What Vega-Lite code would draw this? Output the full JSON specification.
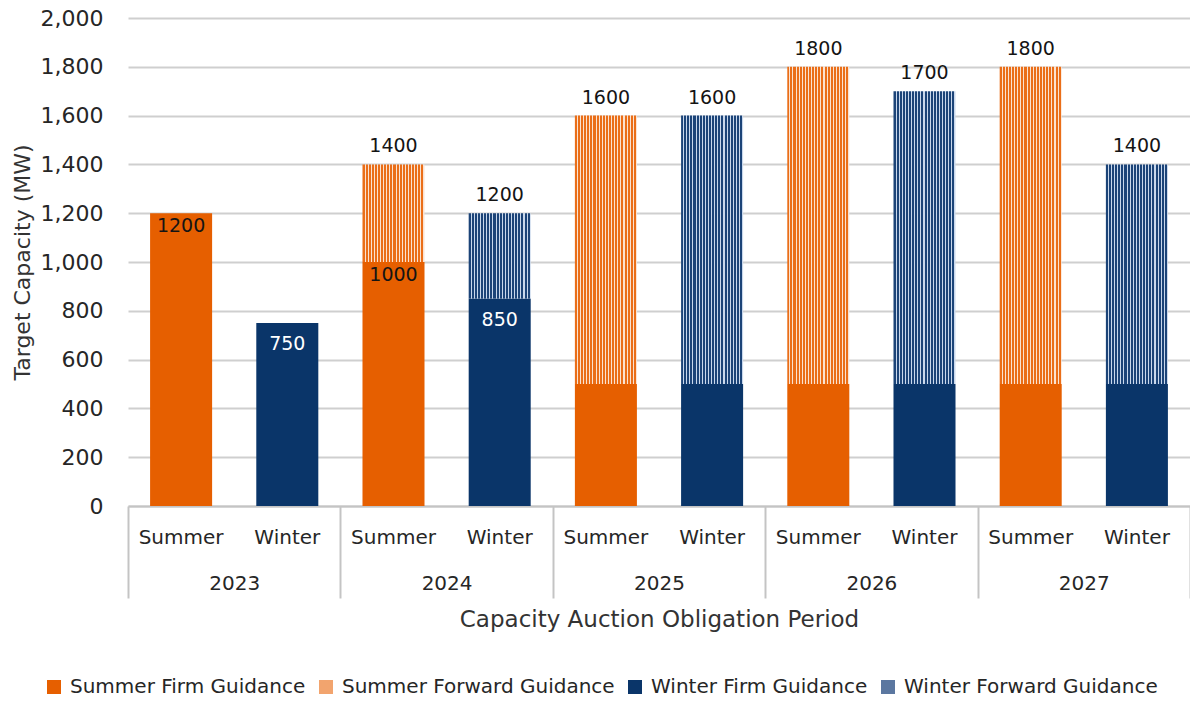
{
  "$schema": "https://vega.github.io/schema/vega-lite/v6.json",
  "autosize": {"type": "none"},
  "padding": {"left": 128, "top": 18, "right": 0, "bottom": 195},
  "width": 1062,
  "height": 488,
  "background": "white",
  "config": {
    "font": "DejaVu Sans",
    "view": {"stroke": null},
    "axis": {"labelFont": "DejaVu Sans", "titleFont": "DejaVu Sans", "titleFontWeight": "normal", "labelColor": "#262626", "titleColor": "#333333"},
    "legend": {"labelFont": "DejaVu Sans"}
  },
  "datasets": {
    "bars": [
      {"key": "2023|Summer", "series": "Summer Firm Guidance", "value": 1200, "ord": 1},
      {"key": "2023|Winter", "series": "Winter Firm Guidance", "value": 750, "ord": 1},
      {"key": "2024|Summer", "series": "Summer Firm Guidance", "value": 1000, "ord": 1},
      {"key": "2024|Summer", "series": "Summer Forward Guidance", "value": 400, "ord": 2},
      {"key": "2024|Winter", "series": "Winter Firm Guidance", "value": 850, "ord": 1},
      {"key": "2024|Winter", "series": "Winter Forward Guidance", "value": 350, "ord": 2},
      {"key": "2025|Summer", "series": "Summer Firm Guidance", "value": 500, "ord": 1},
      {"key": "2025|Summer", "series": "Summer Forward Guidance", "value": 1100, "ord": 2},
      {"key": "2025|Winter", "series": "Winter Firm Guidance", "value": 500, "ord": 1},
      {"key": "2025|Winter", "series": "Winter Forward Guidance", "value": 1100, "ord": 2},
      {"key": "2026|Summer", "series": "Summer Firm Guidance", "value": 500, "ord": 1},
      {"key": "2026|Summer", "series": "Summer Forward Guidance", "value": 1300, "ord": 2},
      {"key": "2026|Winter", "series": "Winter Firm Guidance", "value": 500, "ord": 1},
      {"key": "2026|Winter", "series": "Winter Forward Guidance", "value": 1200, "ord": 2},
      {"key": "2027|Summer", "series": "Summer Firm Guidance", "value": 500, "ord": 1},
      {"key": "2027|Summer", "series": "Summer Forward Guidance", "value": 1300, "ord": 2},
      {"key": "2027|Winter", "series": "Winter Firm Guidance", "value": 500, "ord": 1},
      {"key": "2027|Winter", "series": "Winter Forward Guidance", "value": 900, "ord": 2}
    ],
    "labels": [
      {"key": "2023|Summer", "value": 1200, "text": "1200", "kind": "inDark"},
      {"key": "2024|Summer", "value": 1000, "text": "1000", "kind": "inDark"},
      {"key": "2023|Winter", "value": 750, "text": "750", "kind": "inLight"},
      {"key": "2024|Winter", "value": 850, "text": "850", "kind": "inLight"},
      {"key": "2024|Summer", "value": 1400, "text": "1400", "kind": "above"},
      {"key": "2024|Winter", "value": 1200, "text": "1200", "kind": "above"},
      {"key": "2025|Summer", "value": 1600, "text": "1600", "kind": "above"},
      {"key": "2025|Winter", "value": 1600, "text": "1600", "kind": "above"},
      {"key": "2026|Summer", "value": 1800, "text": "1800", "kind": "above"},
      {"key": "2026|Winter", "value": 1700, "text": "1700", "kind": "above"},
      {"key": "2027|Summer", "value": 1800, "text": "1800", "kind": "above"},
      {"key": "2027|Winter", "value": 1400, "text": "1400", "kind": "above"}
    ],
    "years": [
      {"year": "2023"}, {"year": "2024"}, {"year": "2025"}, {"year": "2026"}, {"year": "2027"}
    ]
  },
  "layer": [
    {
      "layer": [
        {
          "data": {"name": "bars"},
          "mark": {"type": "bar"},
          "encoding": {
            "x": {
              "field": "key", "type": "nominal",
              "scale": {"domain": ["2023|Summer", "2023|Winter", "2024|Summer", "2024|Winter", "2025|Summer", "2025|Winter", "2026|Summer", "2026|Winter", "2027|Summer", "2027|Winter"], "paddingInner": 0.416, "paddingOuter": 0.208},
              "axis": {"orient": "bottom", "title": null, "labelExpr": "split(datum.value, '|')[1]", "labelAngle": 0, "labelFontSize": 20, "labelPadding": 21, "ticks": false, "tickSize": 0, "domain": true, "domainColor": "#c4c4c4", "domainWidth": 2, "grid": false}
            },
            "y": {
              "field": "value", "type": "quantitative", "stack": "zero",
              "scale": {"domain": [0, 2000], "nice": false},
              "axis": {"title": "Target Capacity (MW)", "titleFontSize": 22, "titlePadding": 6, "values": [0, 200, 400, 600, 800, 1000, 1200, 1400, 1600, 1800, 2000], "format": ",.0f", "labelFontSize": 22, "labelPadding": 25, "ticks": false, "tickSize": 0, "domain": false, "grid": true, "gridColor": "#cfcfcf", "gridWidth": 2}
            },
            "order": {"field": "ord", "type": "quantitative"},
            "color": {
              "field": "series", "type": "nominal",
              "scale": {"domain": ["Summer Firm Guidance", "Summer Forward Guidance", "Winter Firm Guidance", "Winter Forward Guidance"], "range": ["#E65F00", "#F2A46E", "#0A3569", "#5B77A0"]},
              "legend": {"title": null, "orient": "none", "legendX": -84, "legendY": 659, "direction": "horizontal", "symbolType": "square", "symbolSize": 196, "symbolStrokeWidth": 0, "labelFontSize": 20, "labelColor": "#262626", "labelOffset": 6, "columnPadding": 10, "labelLimit": 400},
              "condition": [
                {"test": "datum.series === 'Summer Forward Guidance'", "value": {"gradient": "linear", "x1": 0, "y1": 0, "x2": 1, "y2": 0, "stops": [
                  {"offset": 0, "color": "#EA6E18"}, {"offset": 0.0325, "color": "#EA6E18"}, {"offset": 0.0325, "color": "#FBE2D0"}, {"offset": 0.05, "color": "#FBE2D0"},
                  {"offset": 0.05, "color": "#EA6E18"}, {"offset": 0.0825, "color": "#EA6E18"}, {"offset": 0.0825, "color": "#FBE2D0"}, {"offset": 0.1, "color": "#FBE2D0"},
                  {"offset": 0.1, "color": "#EA6E18"}, {"offset": 0.1325, "color": "#EA6E18"}, {"offset": 0.1325, "color": "#FBE2D0"}, {"offset": 0.15, "color": "#FBE2D0"},
                  {"offset": 0.15, "color": "#EA6E18"}, {"offset": 0.1825, "color": "#EA6E18"}, {"offset": 0.1825, "color": "#FBE2D0"}, {"offset": 0.2, "color": "#FBE2D0"},
                  {"offset": 0.2, "color": "#EA6E18"}, {"offset": 0.2325, "color": "#EA6E18"}, {"offset": 0.2325, "color": "#FBE2D0"}, {"offset": 0.25, "color": "#FBE2D0"},
                  {"offset": 0.25, "color": "#EA6E18"}, {"offset": 0.2825, "color": "#EA6E18"}, {"offset": 0.2825, "color": "#FBE2D0"}, {"offset": 0.3, "color": "#FBE2D0"},
                  {"offset": 0.3, "color": "#EA6E18"}, {"offset": 0.3325, "color": "#EA6E18"}, {"offset": 0.3325, "color": "#FBE2D0"}, {"offset": 0.35, "color": "#FBE2D0"},
                  {"offset": 0.35, "color": "#EA6E18"}, {"offset": 0.3825, "color": "#EA6E18"}, {"offset": 0.3825, "color": "#FBE2D0"}, {"offset": 0.4, "color": "#FBE2D0"},
                  {"offset": 0.4, "color": "#EA6E18"}, {"offset": 0.4325, "color": "#EA6E18"}, {"offset": 0.4325, "color": "#FBE2D0"}, {"offset": 0.45, "color": "#FBE2D0"},
                  {"offset": 0.45, "color": "#EA6E18"}, {"offset": 0.4825, "color": "#EA6E18"}, {"offset": 0.4825, "color": "#FBE2D0"}, {"offset": 0.5, "color": "#FBE2D0"},
                  {"offset": 0.5, "color": "#EA6E18"}, {"offset": 0.5325, "color": "#EA6E18"}, {"offset": 0.5325, "color": "#FBE2D0"}, {"offset": 0.55, "color": "#FBE2D0"},
                  {"offset": 0.55, "color": "#EA6E18"}, {"offset": 0.5825, "color": "#EA6E18"}, {"offset": 0.5825, "color": "#FBE2D0"}, {"offset": 0.6, "color": "#FBE2D0"},
                  {"offset": 0.6, "color": "#EA6E18"}, {"offset": 0.6325, "color": "#EA6E18"}, {"offset": 0.6325, "color": "#FBE2D0"}, {"offset": 0.65, "color": "#FBE2D0"},
                  {"offset": 0.65, "color": "#EA6E18"}, {"offset": 0.6825, "color": "#EA6E18"}, {"offset": 0.6825, "color": "#FBE2D0"}, {"offset": 0.7, "color": "#FBE2D0"},
                  {"offset": 0.7, "color": "#EA6E18"}, {"offset": 0.7325, "color": "#EA6E18"}, {"offset": 0.7325, "color": "#FBE2D0"}, {"offset": 0.75, "color": "#FBE2D0"},
                  {"offset": 0.75, "color": "#EA6E18"}, {"offset": 0.7825, "color": "#EA6E18"}, {"offset": 0.7825, "color": "#FBE2D0"}, {"offset": 0.8, "color": "#FBE2D0"},
                  {"offset": 0.8, "color": "#EA6E18"}, {"offset": 0.8325, "color": "#EA6E18"}, {"offset": 0.8325, "color": "#FBE2D0"}, {"offset": 0.85, "color": "#FBE2D0"},
                  {"offset": 0.85, "color": "#EA6E18"}, {"offset": 0.8825, "color": "#EA6E18"}, {"offset": 0.8825, "color": "#FBE2D0"}, {"offset": 0.9, "color": "#FBE2D0"},
                  {"offset": 0.9, "color": "#EA6E18"}, {"offset": 0.9325, "color": "#EA6E18"}, {"offset": 0.9325, "color": "#FBE2D0"}, {"offset": 0.95, "color": "#FBE2D0"},
                  {"offset": 0.95, "color": "#EA6E18"}, {"offset": 0.9825, "color": "#EA6E18"}, {"offset": 0.9825, "color": "#FBE2D0"}, {"offset": 1, "color": "#FBE2D0"}
                ]}},
                {"test": "datum.series === 'Winter Forward Guidance'", "value": {"gradient": "linear", "x1": 0, "y1": 0, "x2": 1, "y2": 0, "stops": [
                  {"offset": 0, "color": "#1C4478"}, {"offset": 0.0325, "color": "#1C4478"}, {"offset": 0.0325, "color": "#C9D8EC"}, {"offset": 0.05, "color": "#C9D8EC"},
                  {"offset": 0.05, "color": "#1C4478"}, {"offset": 0.0825, "color": "#1C4478"}, {"offset": 0.0825, "color": "#C9D8EC"}, {"offset": 0.1, "color": "#C9D8EC"},
                  {"offset": 0.1, "color": "#1C4478"}, {"offset": 0.1325, "color": "#1C4478"}, {"offset": 0.1325, "color": "#C9D8EC"}, {"offset": 0.15, "color": "#C9D8EC"},
                  {"offset": 0.15, "color": "#1C4478"}, {"offset": 0.1825, "color": "#1C4478"}, {"offset": 0.1825, "color": "#C9D8EC"}, {"offset": 0.2, "color": "#C9D8EC"},
                  {"offset": 0.2, "color": "#1C4478"}, {"offset": 0.2325, "color": "#1C4478"}, {"offset": 0.2325, "color": "#C9D8EC"}, {"offset": 0.25, "color": "#C9D8EC"},
                  {"offset": 0.25, "color": "#1C4478"}, {"offset": 0.2825, "color": "#1C4478"}, {"offset": 0.2825, "color": "#C9D8EC"}, {"offset": 0.3, "color": "#C9D8EC"},
                  {"offset": 0.3, "color": "#1C4478"}, {"offset": 0.3325, "color": "#1C4478"}, {"offset": 0.3325, "color": "#C9D8EC"}, {"offset": 0.35, "color": "#C9D8EC"},
                  {"offset": 0.35, "color": "#1C4478"}, {"offset": 0.3825, "color": "#1C4478"}, {"offset": 0.3825, "color": "#C9D8EC"}, {"offset": 0.4, "color": "#C9D8EC"},
                  {"offset": 0.4, "color": "#1C4478"}, {"offset": 0.4325, "color": "#1C4478"}, {"offset": 0.4325, "color": "#C9D8EC"}, {"offset": 0.45, "color": "#C9D8EC"},
                  {"offset": 0.45, "color": "#1C4478"}, {"offset": 0.4825, "color": "#1C4478"}, {"offset": 0.4825, "color": "#C9D8EC"}, {"offset": 0.5, "color": "#C9D8EC"},
                  {"offset": 0.5, "color": "#1C4478"}, {"offset": 0.5325, "color": "#1C4478"}, {"offset": 0.5325, "color": "#C9D8EC"}, {"offset": 0.55, "color": "#C9D8EC"},
                  {"offset": 0.55, "color": "#1C4478"}, {"offset": 0.5825, "color": "#1C4478"}, {"offset": 0.5825, "color": "#C9D8EC"}, {"offset": 0.6, "color": "#C9D8EC"},
                  {"offset": 0.6, "color": "#1C4478"}, {"offset": 0.6325, "color": "#1C4478"}, {"offset": 0.6325, "color": "#C9D8EC"}, {"offset": 0.65, "color": "#C9D8EC"},
                  {"offset": 0.65, "color": "#1C4478"}, {"offset": 0.6825, "color": "#1C4478"}, {"offset": 0.6825, "color": "#C9D8EC"}, {"offset": 0.7, "color": "#C9D8EC"},
                  {"offset": 0.7, "color": "#1C4478"}, {"offset": 0.7325, "color": "#1C4478"}, {"offset": 0.7325, "color": "#C9D8EC"}, {"offset": 0.75, "color": "#C9D8EC"},
                  {"offset": 0.75, "color": "#1C4478"}, {"offset": 0.7825, "color": "#1C4478"}, {"offset": 0.7825, "color": "#C9D8EC"}, {"offset": 0.8, "color": "#C9D8EC"},
                  {"offset": 0.8, "color": "#1C4478"}, {"offset": 0.8325, "color": "#1C4478"}, {"offset": 0.8325, "color": "#C9D8EC"}, {"offset": 0.85, "color": "#C9D8EC"},
                  {"offset": 0.85, "color": "#1C4478"}, {"offset": 0.8825, "color": "#1C4478"}, {"offset": 0.8825, "color": "#C9D8EC"}, {"offset": 0.9, "color": "#C9D8EC"},
                  {"offset": 0.9, "color": "#1C4478"}, {"offset": 0.9325, "color": "#1C4478"}, {"offset": 0.9325, "color": "#C9D8EC"}, {"offset": 0.95, "color": "#C9D8EC"},
                  {"offset": 0.95, "color": "#1C4478"}, {"offset": 0.9825, "color": "#1C4478"}, {"offset": 0.9825, "color": "#C9D8EC"}, {"offset": 1, "color": "#C9D8EC"}
                ]}}
              ]
            }
          }
        },
        {
          "data": {"name": "labels"},
          "transform": [{"filter": "datum.kind === 'inDark'"}],
          "mark": {"type": "text", "baseline": "middle", "dy": 13, "fontSize": 19, "color": "#141414"},
          "encoding": {
            "x": {"field": "key", "type": "nominal"},
            "y": {"field": "value", "type": "quantitative", "stack": null},
            "text": {"field": "text"}
          }
        },
        {
          "data": {"name": "labels"},
          "transform": [{"filter": "datum.kind === 'inLight'"}],
          "mark": {"type": "text", "baseline": "middle", "dy": 21, "fontSize": 19, "color": "#ffffff"},
          "encoding": {
            "x": {"field": "key", "type": "nominal"},
            "y": {"field": "value", "type": "quantitative", "stack": null},
            "text": {"field": "text"}
          }
        },
        {
          "data": {"name": "labels"},
          "transform": [{"filter": "datum.kind === 'above'"}],
          "mark": {"type": "text", "baseline": "middle", "dy": -18, "fontSize": 19, "color": "#141414"},
          "encoding": {
            "x": {"field": "key", "type": "nominal"},
            "y": {"field": "value", "type": "quantitative", "stack": null},
            "text": {"field": "text"}
          }
        }
      ]
    },
    {
      "data": {"name": "years"},
      "mark": {"type": "rule", "strokeOpacity": 0},
      "encoding": {
        "x": {
          "field": "year", "type": "nominal",
          "scale": {"domain": ["2023", "2024", "2025", "2026", "2027"], "paddingInner": 0, "paddingOuter": 0},
          "axis": {"orient": "bottom", "title": "Capacity Auction Obligation Period", "titleFontSize": 23, "titlePadding": 9, "labelAngle": 0, "labelFontSize": 20, "tickBand": "extent", "ticks": true, "tickSize": 92, "tickColor": "#c4c4c4", "tickWidth": 2, "labelPadding": -25, "domain": false, "grid": false}
        }
      }
    }
  ],
  "resolve": {"scale": {"x": "independent"}, "axis": {"x": "independent"}}
}
